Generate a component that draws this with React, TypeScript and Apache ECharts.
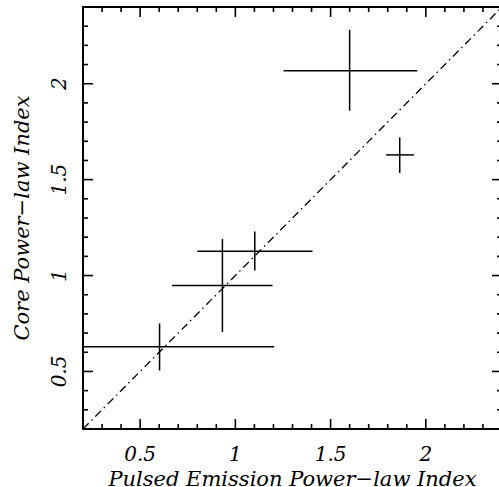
import React, { useEffect, useRef } from "react";
import * as echarts from "echarts";

const xCenter = [1.6, 1.863, 1.102, 0.932, 0.602];
const yCenter = [2.068, 1.629, 1.127, 0.948, 0.629];
const xLow = [1.253, 1.792, 0.8, 0.668, 0.2];
const xHigh = [1.955, 1.937, 1.405, 1.195, 1.204];
const yLow = [1.859, 1.535, 1.026, 0.705, 0.505];
const yHigh = [2.281, 1.72, 1.229, 1.191, 0.75];

const majorTicks = [0.5, 1, 1.5, 2];
const minorTicks = [0.3, 0.4, 0.6, 0.7, 0.8, 0.9, 1.1, 1.2, 1.3, 1.4, 1.6, 1.7, 1.8, 1.9, 2.1, 2.2, 2.3];
const diagonal = [[0.2, 0.2], [2.4, 2.4]];

const X_MIN = 0.2, X_MAX = 2.4, Y_MIN = 0.2, Y_MAX = 2.4;
const FONT = "DejaVu Serif";
const MAJOR_LEN = 10, MINOR_LEN = 5;

function axis(kind: "x" | "y", position: string, main: boolean) {
  const a: any = {
    type: "value",
    min: kind === "x" ? X_MIN : Y_MIN,
    max: kind === "x" ? X_MAX : Y_MAX,
    position,
    axisLine: { show: true, onZero: false, lineStyle: { color: "#000", width: 2 } },
    axisTick: { show: false },
    axisLabel: { show: false },
    splitLine: { show: false },
  };
  if (main) {
    a.axisLabel = {
      show: true,
      customValues: majorTicks,
      color: "#000",
      fontFamily: FONT,
      fontStyle: "italic",
      fontSize: 20,
      margin: kind === "x" ? 15 : 14,
      rotate: kind === "y" ? 90 : 0,
      formatter: (v: number) => String(v),
    };
    a.name = kind === "x" ? "Pulsed Emission Power\u2212law Index" : "Core Power\u2212law Index";
    a.nameLocation = "middle";
    a.nameGap = kind === "x" ? 34 : 51;
    a.nameTextStyle = { color: "#000", fontFamily: FONT, fontStyle: "italic", fontSize: 21 };
  }
  return a;
}

export default function App() {
  const ref = useRef<HTMLDivElement>(null);
  useEffect(() => {
    const chart = echarts.init(ref.current!, null, { renderer: "svg" });
    const data = xCenter.map((x, i) => [x, yCenter[i], xLow[i], xHigh[i], yLow[i], yHigh[i]]);
    const xTickData = [
      ...majorTicks.map((v) => [v, 1.3, MAJOR_LEN]),
      ...minorTicks.map((v) => [v, 1.3, MINOR_LEN]),
    ];
    const yTickData = [
      ...majorTicks.map((v) => [1.3, v, MAJOR_LEN]),
      ...minorTicks.map((v) => [1.3, v, MINOR_LEN]),
    ];
    const tickStyle = { stroke: "#000", lineWidth: 1.6 };
    const xTickRender = (params: any, api: any) => {
      const cs = params.coordSys;
      const px = api.coord([api.value(0), api.value(1)])[0];
      const len = api.value(2);
      const bottom = cs.y + cs.height, top = cs.y;
      return {
        type: "group",
        children: [
          { type: "line", shape: { x1: px, y1: bottom, x2: px, y2: bottom - len }, style: { ...tickStyle } },
          { type: "line", shape: { x1: px, y1: top, x2: px, y2: top + len }, style: { ...tickStyle } },
        ],
      };
    };
    const yTickRender = (params: any, api: any) => {
      const cs = params.coordSys;
      const py = api.coord([api.value(0), api.value(1)])[1];
      const len = api.value(2);
      const left = cs.x, right = cs.x + cs.width;
      return {
        type: "group",
        children: [
          { type: "line", shape: { x1: left, y1: py, x2: left + len, y2: py }, style: { ...tickStyle } },
          { type: "line", shape: { x1: right, y1: py, x2: right - len, y2: py }, style: { ...tickStyle } },
        ],
      };
    };
    chart.setOption({
      animation: false,
      backgroundColor: "#fff",
      grid: { left: 83, top: 7, right: -3, bottom: 58, containLabel: false, outerBoundsMode: "none" },
      xAxis: [axis("x", "bottom", true), axis("x", "top", false)],
      yAxis: [axis("y", "left", true), axis("y", "right", false)],
      series: [
        {
          type: "line",
          xAxisIndex: 0,
          yAxisIndex: 0,
          data: diagonal,
          symbol: "none",
          clip: true,
          lineStyle: { color: "#000", width: 1.3, type: [8, 4, 1.5, 4] },
        },
        {
          type: "custom",
          xAxisIndex: 0,
          yAxisIndex: 0,
          clip: true,
          data,
          encode: { x: [0, 2, 3], y: [1, 4, 5] },
          renderItem: (params: any, api: any) => {
            const x = api.value(0), y = api.value(1);
            const l = api.coord([api.value(2), y]);
            const r = api.coord([api.value(3), y]);
            const b = api.coord([x, api.value(4)]);
            const t = api.coord([x, api.value(5)]);
            const style = { stroke: "#000", lineWidth: 1.5 };
            return {
              type: "group",
              children: [
                { type: "line", shape: { x1: l[0], y1: l[1], x2: r[0], y2: r[1] }, style },
                { type: "line", shape: { x1: b[0], y1: b[1], x2: t[0], y2: t[1] }, style },
              ],
            };
          },
        },
        {
          type: "custom",
          xAxisIndex: 0,
          yAxisIndex: 0,
          clip: false,
          data: xTickData,
          encode: { x: 0, y: 1 },
          renderItem: xTickRender,
        },
        {
          type: "custom",
          xAxisIndex: 0,
          yAxisIndex: 0,
          clip: false,
          data: yTickData,
          encode: { x: 0, y: 1 },
          renderItem: yTickRender,
        },
      ],
    });
    return () => chart.dispose();
  }, []);
  return <div ref={ref} style={{ width: 499, height: 487, position: "absolute", left: 0, top: 0 }} />;
}
